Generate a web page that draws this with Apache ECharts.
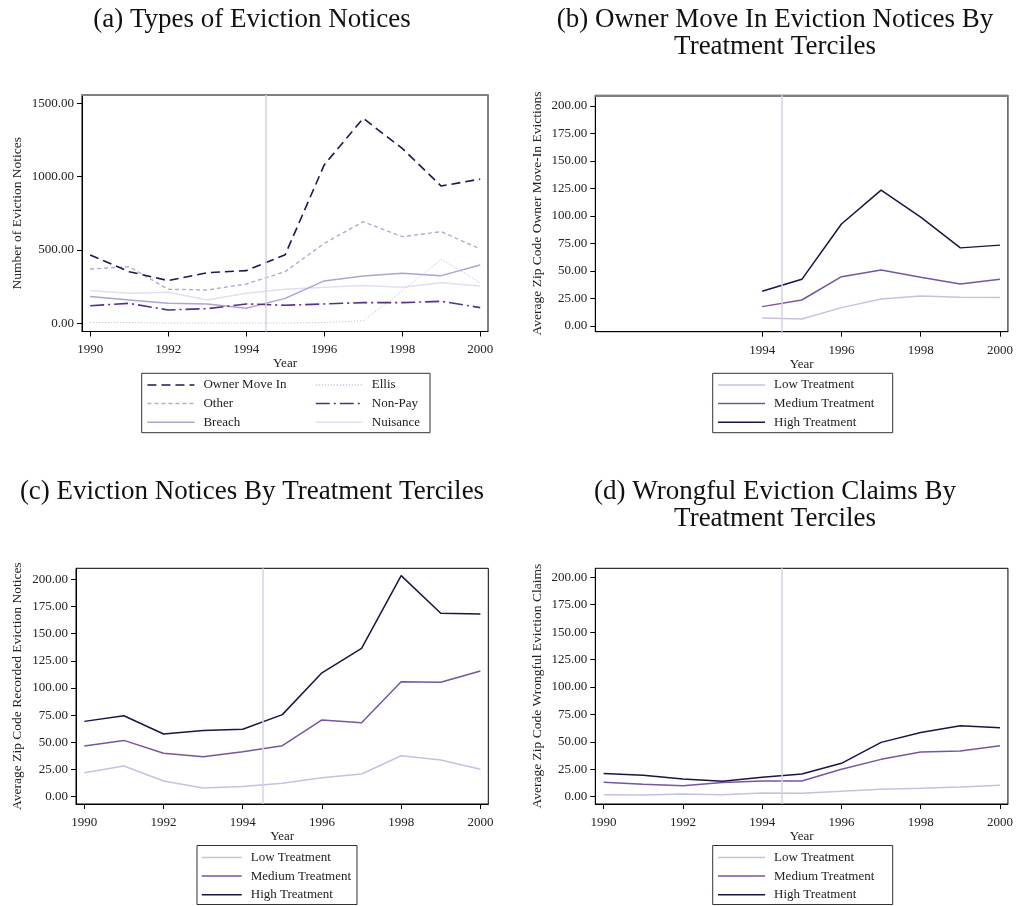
<!DOCTYPE html>
<html><head><meta charset="utf-8">
<script src="https://cdn.jsdelivr.net/npm/echarts@6/dist/echarts.min.js"></script>
<style>html,body{margin:0;padding:0;background:#fff}#c{width:1016px;height:906px}</style>
</head><body><div id="c"></div>
<script>
// ---------- data ----------
const years = [1990, 1991, 1992, 1993, 1994, 1995, 1996, 1997, 1998, 1999, 2000];
const yearsB = [1994, 1995, 1996, 1997, 1998, 1999, 2000];
const xTicks = [1990, 1992, 1994, 1996, 1998, 2000];
const xTicksB = [1994, 1996, 1998, 2000];
const yTicksA = [0, 500, 1000, 1500];
const yTicksT = [0, 25, 50, 75, 100, 125, 150, 175, 200];
const policyYear = 1994.5;

// (a) Types of eviction notices
const aOwnerMoveIn = [466, 352, 291, 345, 359, 468, 1080, 1398, 1193, 936, 984];
const aOther       = [370, 386, 232, 227, 268, 352, 545, 693, 591, 625, 507];
const aBreach      = [182, 159, 136, 132, 102, 170, 289, 323, 341, 325, 398];
const aEllis       = [5, 5, 2, 2, 2, 2, 5, 18, 220, 436, 277];
const aNonPay      = [120, 136, 91, 100, 132, 123, 132, 141, 141, 150, 107];
const aNuisance    = [223, 205, 211, 159, 205, 232, 245, 257, 245, 277, 255];

// (b) Owner move in by treatment tercile (1994-2000)
const bLow  = [7.3, 6.4, 16.7, 24.5, 27.3, 26.1, 25.8];
const bMed  = [17.6, 23.6, 44.8, 50.9, 44.2, 38.2, 42.4];
const bHigh = [31.5, 42.4, 92.7, 123.5, 99, 71, 73.5];

// (c) Eviction notices by treatment tercile
const cLow  = [22.1, 28.2, 14.4, 8, 9.5, 12.3, 17.5, 20.9, 37.7, 33.7, 25.2];
const cMed  = [46.6, 51.8, 39.9, 36.8, 41.4, 46.9, 70.6, 68.1, 105.8, 105.2, 115.6];
const cHigh = [69.3, 74.5, 57.7, 61, 62, 75.5, 114, 136.5, 203.4, 168.7, 168.1];

// (d) Wrongful eviction claims by treatment tercile
const dLow  = [1.8, 1.5, 2.4, 1.8, 3.3, 3, 4.9, 6.7, 7.6, 8.8, 10.3];
const dMed  = [13.1, 11.2, 10, 12.8, 14.3, 14.3, 24.9, 34, 40.7, 41.6, 46.5];
const dHigh = [21, 19.5, 16.1, 14, 17.6, 20.7, 30.4, 49.5, 58.4, 64.7, 62.9];

// ---------- styling ----------
const FF = 'Liberation Serif';
const TXT = '#222';
const C_LOW = '#c8c0e1', C_MED = '#7656a3', C_HIGH = '#1f1245';
const zip = (xs, ys) => xs.map((x, i) => [x, ys[i]]);

const grids = [
  {left: 82, right: 528, top: 95, height: 236.5},
  {left: 595.3, right: 7.7, top: 95.3, height: 236.4},
  {left: 76, right: 527.7, top: 568.3, height: 235.7},
  {left: 595.3, right: 7.7, top: 568.3, height: 235.7}
].map(g => Object.assign({show: true, borderColor: '#000', borderWidth: 1, containLabel: false}, g));

function xAx(gi, ticks) {
  return {
    type: 'value', gridIndex: gi, min: 1989.79, max: 2000.2, position: 'bottom',
    axisLine: {show: true, onZero: false, lineStyle: {color: '#000', width: 1}},
    axisTick: {show: true, length: 5, customValues: ticks, lineStyle: {color: '#000'}},
    axisLabel: {customValues: ticks, margin: 12, fontFamily: FF, fontSize: 13, color: TXT, formatter: v => String(v)},
    splitLine: {show: false},
    name: 'Year', nameLocation: 'middle', nameGap: 28,
    nameTextStyle: {fontFamily: FF, fontSize: 13, color: TXT, verticalAlign: 'middle'}
  };
}
function topAx(gi) {
  return {
    type: 'value', gridIndex: gi, min: 1989.79, max: 2000.2, position: 'top',
    axisLine: {show: true, onZero: false, lineStyle: {color: '#808080', width: 2}},
    axisTick: {show: false}, axisLabel: {show: false}, splitLine: {show: false}
  };
}
function yAx(gi, min, max, ticks, name, gap) {
  return {
    type: 'value', gridIndex: gi, min: min, max: max,
    axisLine: {show: true, onZero: false, lineStyle: {color: '#000', width: 1}},
    axisTick: {show: true, length: 5, customValues: ticks, lineStyle: {color: '#000'}},
    axisLabel: {customValues: ticks, margin: 8, fontFamily: FF, fontSize: 13, color: TXT, formatter: v => Number(v).toFixed(2)},
    splitLine: {show: false},
    name: name, nameLocation: 'middle', nameGap: gap,
    nameTextStyle: {fontFamily: FF, fontSize: 13.5, color: TXT, verticalAlign: 'middle'}
  };
}

const vline = {
  silent: true, symbol: 'none', label: {show: false}, animation: false,
  lineStyle: {color: '#d6d2ea', width: 1.5, type: 'solid'},
  data: [{xAxis: policyYear}]
};

function ser(name, xi, xs, ys, color, width, type, withLine) {
  const s = {
    type: 'line', name: name, xAxisIndex: xi, yAxisIndex: xi, data: zip(xs, ys),
    symbol: 'none', silent: true, animation: false,
    lineStyle: {color: color, width: width, type: type}, itemStyle: {color: color}
  };
  if (withLine) s.markLine = vline;
  return s;
}

const series = [
  // (a)
  ser('Nuisance', 0, years, aNuisance, '#e2dfef', 1.5, 'solid', true),
  ser('Ellis', 0, years, aEllis, '#bdb5db', 1, [1, 2], false),
  ser('Breach', 0, years, aBreach, '#aea3d2', 1.5, 'solid', false),
  ser('Other', 0, years, aOther, '#b3aad6', 1.4, [4, 3], false),
  ser('Non-Pay', 0, years, aNonPay, '#55308f', 1.6, [14, 4, 2, 4], false),
  ser('Owner Move In', 0, years, aOwnerMoveIn, '#22164f', 1.6, [9, 5], false),
  // (b)
  ser('Low Treatment', 1, yearsB, bLow, C_LOW, 1.5, 'solid', true),
  ser('Medium Treatment', 1, yearsB, bMed, C_MED, 1.5, 'solid', false),
  ser('High Treatment', 1, yearsB, bHigh, C_HIGH, 1.5, 'solid', false),
  // (c)
  ser('Low Treatment', 2, years, cLow, C_LOW, 1.5, 'solid', true),
  ser('Medium Treatment', 2, years, cMed, C_MED, 1.5, 'solid', false),
  ser('High Treatment', 2, years, cHigh, C_HIGH, 1.5, 'solid', false),
  // (d)
  ser('Low Treatment', 3, years, dLow, C_LOW, 1.5, 'solid', true),
  ser('Medium Treatment', 3, years, dMed, C_MED, 1.5, 'solid', false),
  ser('High Treatment', 3, years, dHigh, C_HIGH, 1.5, 'solid', false)
];

function leg(data, left, top, iw) {
  return {
    data: data, orient: 'vertical', left: left, top: top, padding: 0,
    itemWidth: iw, itemHeight: 14, itemGap: 4.6, selectedMode: false,
    lineStyle: {width: 1.5},
    itemStyle: {color: 'rgba(0,0,0,0)', borderColor: 'rgba(0,0,0,0)', borderWidth: 0},
    textStyle: {fontFamily: FF, fontSize: 13, color: TXT, lineHeight: 10, padding: [4, 0, 0, 4]}
  };
}
const tTerc = ['Low Treatment', 'Medium Treatment', 'High Treatment'];

function title(text, x, y) {
  return {type: 'text', x: x, y: y, silent: true,
    style: {text: text, fontFamily: FF, fontSize: 27, fill: '#111', align: 'center', verticalAlign: 'middle'}};
}
function box(x, y, w, h) {
  return {type: 'rect', silent: true, shape: {x: x, y: y, width: w, height: h},
    style: {fill: 'none', stroke: '#333', lineWidth: 1}};
}

const option = {
  backgroundColor: '#fff',
  animation: false,
  grid: grids,
  xAxis: [xAx(0, xTicks), xAx(1, xTicksB), xAx(2, xTicks), xAx(3, xTicks), topAx(0), topAx(1)],
  yAxis: [
    yAx(0, -56, 1557, yTicksA, 'Number of Eviction Notices', 65),
    yAx(1, -5.2, 209.7, yTicksT, 'Average Zip Code Owner Move-In Evictions', 58.3),
    yAx(2, -6.7, 210.1, yTicksT, 'Average Zip Code Recorded Eviction Notices', 58.5),
    yAx(3, -6.7, 208.2, yTicksT, 'Average Zip Code Wrongful Eviction Claims', 58.3)
  ],
  legend: [
    leg(['Owner Move In', 'Other', 'Breach'], 146.7, 378, 47),
    leg(['Ellis', 'Non-Pay', 'Nuisance'], 315, 378, 47),
    leg(tTerc, 717.3, 378, 47),
    leg(tTerc, 201, 850.5, 40),
    leg(tTerc, 717.3, 850.5, 47)
  ],
  series: series,
  graphic: [
    title('(a) Types of Eviction Notices', 252, 20),
    title('(b) Owner Move In Eviction Notices By', 775, 20),
    title('Treatment Terciles', 775, 47),
    title('(c) Eviction Notices By Treatment Terciles', 252, 492),
    title('(d) Wrongful Eviction Claims By', 775, 492),
    title('Treatment Terciles', 775, 519),
    box(141.7, 373.3, 288.3, 59.4),
    box(712.7, 373.3, 180, 59.4),
    box(197, 845.5, 160, 59),
    box(712.7, 845.5, 180, 59)
  ]
};
const chart = echarts.init(document.getElementById('c'));
chart.setOption(option);
</script>
</body></html>
